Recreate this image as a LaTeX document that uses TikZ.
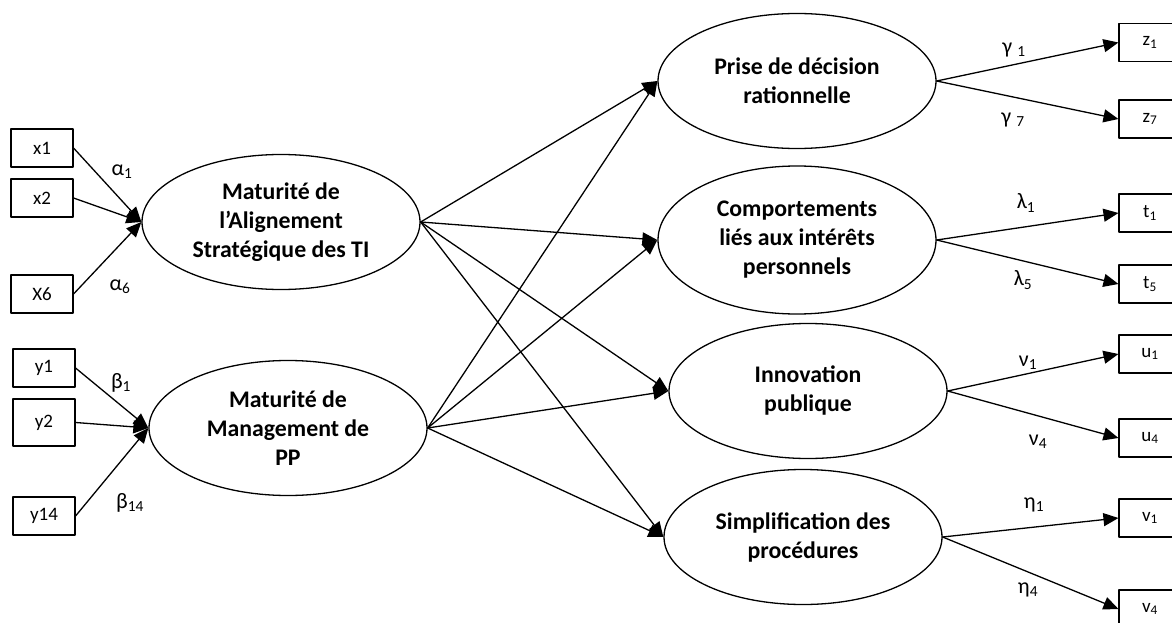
\documentclass[tikz,border=0pt]{standalone}
\usepackage{fontspec}
\setmainfont{Carlito}
\usetikzlibrary{shapes.geometric,arrows.meta}

\begin{document}
\begin{tikzpicture}[x=1pt, y=-1pt, line cap=round, line join=round,
    latent/.style={draw, ellipse, line width=1.3pt, minimum width=278pt, minimum height=135pt, inner sep=0pt, align=center, font=\fontsize{23.8}{29}\selectfont\bfseries},
    item/.style={draw, rectangle, line width=1.1pt, minimum width=62pt, minimum height=38pt, inner sep=0pt, font=\fontsize{19}{21}\selectfont},
    coef/.style={inner sep=1pt, font=\fontsize{22}{24}\selectfont},
    link/.style={line width=1.3pt, -{Triangle[length=15pt,width=13pt]}}]

                \clip (0,0) rectangle (1172,623);

                \node[latent] (align) at (281,222) {Maturité de\\l’Alignement\\Stratégique des TI};
                \node[latent] (mgmt) at (288,428) {Maturité de\\Management de\\PP};

                \node[latent] (prise) at (797,81) {Prise de décision\\rationnelle};
                \node[latent, minimum height=148pt] (comport) at (797,240) {Comportements\\liés aux intérêts\\personnels};
                \node[latent] (innov) at (808,391) {Innovation\\publique};
                \node[latent] (simpl) at (803,537) {Simplification des\\procédures};

                \node[item] (x1) at (42,148) {x1};
                \node[item] (x2) at (42,198) {x2};
                \node[item] (x6) at (42,294) {X6};
                \node[item] (y1) at (44,368) {y1};
                \node[item, minimum height=47pt] (y2) at (44,422.5) {y2};
                \node[item] (y14) at (44,516) {y14};

                \node[item] (z1) at (1150,42.5) {z\textsubscript{1}};
                \node[item] (z7) at (1150,119) {z\textsubscript{7}};
                \node[item] (t1) at (1150,213) {t\textsubscript{1}};
                \node[item] (t5) at (1150,284) {t\textsubscript{5}};
                \node[item] (u1) at (1150,354) {u\textsubscript{1}};
                \node[item] (u4) at (1150,438) {u\textsubscript{4}};
                \node[item] (v1) at (1150,518) {v\textsubscript{1}};
                \node[item] (v4) at (1150,609) {v\textsubscript{4}};

                \node[coef] (a1) at (122,172) {α\textsubscript{1}};
                \node[coef] (a6) at (120,287) {α\textsubscript{6}};
                \node[coef] (b1) at (121,383) {β\textsubscript{1}};
                \node[coef] (b14) at (130,503) {β\textsubscript{14}};
                \node[coef] (g1) at (1014,50) {γ \textsubscript{1}};
                \node[coef] (g7) at (1013,120) {γ \textsubscript{7}};
                \node[coef] (l1) at (1026,203) {λ\textsubscript{1}};
                \node[coef] (l5) at (1023,280) {λ\textsubscript{5}};
                \node[coef] (n1) at (1028,363) {ν\textsubscript{1}};
                \node[coef] (n4) at (1038,442) {ν\textsubscript{4}};
                \node[coef] (e1) at (1034,505) {η\textsubscript{1}};
                \node[coef] (e4) at (1028,590) {η\textsubscript{4}};

                \draw[link] (x1.east) -- (align.west);
                \draw[link] (x2.east) -- (align.west);
                \draw[link] (x6.east) -- (align.west);
                \draw[link] (y1.east) -- (mgmt.west);
                \draw[link] (y2.east) -- (mgmt.west);
                \draw[link] (y14.east) -- (mgmt.west);

                \foreach \src in {align, mgmt}
                  \foreach \dst in {prise, comport, innov, simpl}
                    \draw[link] (\src.east) -- (\dst.west);

                \draw[link] (prise.east) -- (z1.west);
                \draw[link] (prise.east) -- (z7.west);
                \draw[link] (comport.east) -- (t1.west);
                \draw[link] (comport.east) -- (t5.west);
                \draw[link] (innov.east) -- (u1.west);
                \draw[link] (innov.east) -- (u4.west);
                \draw[link] (simpl.east) -- (v1.west);
                \draw[link] (simpl.east) -- (v4.west);

            \end{tikzpicture}
\end{document}
